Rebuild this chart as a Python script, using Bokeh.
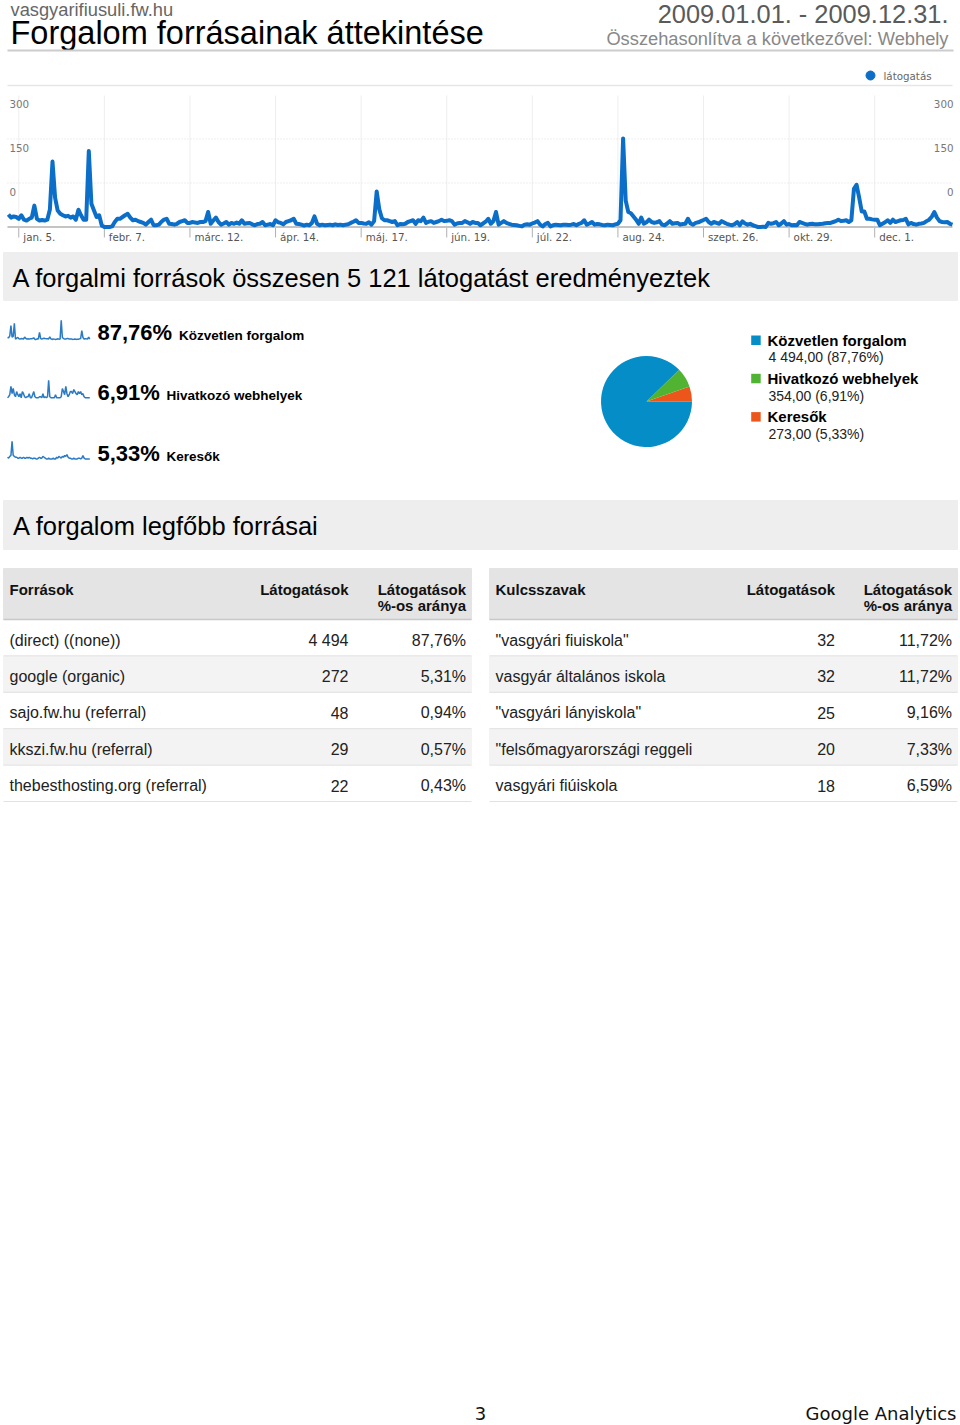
import numpy as np
import pandas as pd
from bokeh.plotting import figure
from bokeh.models import Range1d, ColumnDataSource
from bokeh.core.properties import value
from bokeh.transform import cumsum
from bokeh.embed import file_html
from bokeh.resources import INLINE

W, H = 960, 1425

# ---------------- data ----------------
site_name = "vasgyarifiusuli.fw.hu"
report_title = "Forgalom forrásainak áttekintése"
date_range = "2009.01.01. - 2009.12.31."
compare_text = "Összehasonlítva a következővel: Webhely"
series_name = "látogatás"

visits_jan = [43, 32, 36, 34, 28, 40, 25, 22, 28, 32, 73, 28, 22, 24, 22, 25, 60, 223, 100, 56, 45, 40, 36, 38, 32, 36, 25, 59, 40, 25, 25]
visits_feb = [259, 79, 56, 34, 40, 5, 0, 0, 0, 2, 17, 28, 28, 34, 40, 45, 32, 23, 25, 20, 17, 14, 8, 17, 25, 6, 6, 8]
visits_mar = [18, 25, 28, 11, 10, 8, 11, 17, 20, 23, 14, 14, 17, 15, 14, 17, 17, 20, 51, 11, 22, 32, 17, 8, 12, 17, 8, 14, 11, 15, 11]
visits_apr = [23, 11, 13, 14, 9, 6, 10, 11, 17, 6, 8, 10, 6, 23, 16, 14, 9, 17, 20, 23, 28, 11, 10, 8, 5, 8, 6, 14, 36, 11]
visits_may = [6, 8, 6, 7, 8, 6, 9, 7, 8, 6, 8, 9, 14, 18, 23, 14, 14, 12, 11, 16, 8, 20, 121, 60, 30, 23, 23, 20, 17, 20, 6]
visits_jun = [10, 9, 11, 17, 20, 23, 11, 23, 20, 32, 14, 18, 20, 14, 17, 20, 25, 20, 21, 23, 20, 8, 12, 14, 14, 20, 16, 11, 17, 14]
visits_jul = [14, 6, 12, 18, 28, 11, 20, 51, 8, 14, 20, 14, 11, 8, 7, 6, 4, 2, 8, 9, 8, 12, 15, 20, 8, 2, 10, 14, 2, 6, 8]
visits_aug = [7, 6, 8, 8, 7, 8, 10, 6, 11, 14, 23, 8, 12, 17, 8, 10, 9, 7, 6, 8, 7, 6, 9, 11, 23, 302, 90, 51, 47, 36, 25]
visits_sep = [11, 32, 11, 16, 25, 17, 14, 16, 20, 8, 6, 12, 20, 11, 13, 14, 8, 10, 11, 28, 12, 8, 14, 16, 20, 24, 28, 17, 11, 17]
visits_oct = [14, 11, 20, 15, 11, 8, 6, 10, 17, 6, 19, 12, 8, 11, 6, 3, 0, 0, 1, 0, 14, 11, 13, 17, 6, 12, 20, 8, 10, 6, 7]
visits_nov = [6, 17, 14, 11, 8, 10, 11, 9, 9, 10, 11, 13, 14, 14, 17, 20, 25, 20, 21, 23, 17, 23, 130, 144, 101, 53, 53, 28, 28, 26]
visits_dec = [25, 25, 6, 11, 16, 23, 14, 25, 17, 20, 23, 24, 28, 9, 14, 10, 8, 11, 12, 14, 20, 25, 35, 51, 32, 20, 17, 16, 17, 11, 8]

tick_dates = ["2009-01-05", "2009-02-07", "2009-03-12", "2009-04-14", "2009-05-17", "2009-06-19",
              "2009-07-22", "2009-08-24", "2009-09-26", "2009-10-29", "2009-12-01"]
tick_labels = ["jan. 5.", "febr. 7.", "márc. 12.", "ápr. 14.", "máj. 17.", "jún. 19.",
               "júl. 22.", "aug. 24.", "szept. 26.", "okt. 29.", "dec. 1."]
y_ticks = [0, 150, 300]

summary_title = "A forgalmi források összesen 5 121 látogatást eredményeztek"
source_names = ["Közvetlen forgalom", "Hivatkozó webhelyek", "Keresők"]
source_visits = [4494, 354, 273]
source_pct = ["87,76%", "6,91%", "5,33%"]
source_legend_vals = ["4 494,00 (87,76%)", "354,00 (6,91%)", "273,00 (5,33%)"]
source_colors = ["#058dc7", "#50b432", "#ed561b"]

spark_direct = [35, 30, 60, 210, 40, 50, 245, 8, 25, 35,
                15, 12, 18, 15, 12, 40, 20, 10, 15, 10,
                15, 15, 18, 30, 6, 6, 15, 12, 110, 18,
                12, 18, 22, 18, 15, 14, 12, 42, 15, 5,
                12, 10, 6, 7, 15, 10, 7, 290, 35, 18,
                12, 12, 18, 18, 12, 12, 12, 6, 8, 12,
                6, 10, 8, 14, 18, 135, 35, 12, 16, 14,
                10, 40, 12]
spark_referral = [2, 3, 5, 13, 6, 11, 5, 3, 8, 5,
                  3, 6, 2, 8, 6, 3, 2, 3, 3, 6,
                  2, 2, 5, 8, 3, 2, 2, 2, 3, 3,
                  2, 6, 2, 3, 2, 3, 19, 3, 2, 2,
                  2, 2, 5, 2, 2, 2, 2, 3, 11, 8,
                  5, 13, 6, 3, 5, 8, 8, 6, 10, 8,
                  6, 5, 8, 6, 8, 5, 6, 3, 2, 2,
                  2, 2, 2]
spark_search = [4, 3, 5, 6, 22, 6, 5, 4, 4, 3,
                3, 4, 3, 3, 4, 3, 3, 4, 3, 4,
                3, 3, 2, 3, 3, 2, 2, 3, 4, 3,
                3, 5, 4, 3, 2, 2, 3, 2, 2, 2,
                3, 2, 2, 4, 3, 5, 4, 3, 5, 4,
                6, 5, 7, 4, 3, 3, 2, 2, 3, 2,
                2, 2, 3, 3, 2, 3, 6, 3, 2, 2,
                2, 2, 2]

top_title = "A forgalom legfőbb forrásai"
src_headers = ["Források", "Látogatások", "Látogatások", "%-os aránya"]
kw_headers = ["Kulcsszavak", "Látogatások", "Látogatások", "%-os aránya"]
top_sources = ["(direct) ((none))", "google (organic)", "sajo.fw.hu (referral)",
               "kkszi.fw.hu (referral)", "thebesthosting.org (referral)"]
top_sources_visits = ["4 494", "272", "48", "29", "22"]
top_sources_pct = ["87,76%", "5,31%", "0,94%", "0,57%", "0,43%"]
keywords = ['"vasgyári fiuiskola"', "vasgyár általános iskola", '"vasgyári lányiskola"',
            '"felsőmagyarországi reggeli', "vasgyári fiúiskola"]
keywords_visits = ["32", "32", "25", "20", "18"]
keywords_pct = ["11,72%", "11,72%", "9,16%", "7,33%", "6,59%"]

page_number = "3"
footer_brand = "Google Analytics"

# ---------------- helpers ----------------
SANS = "Liberation Sans"
DEJA = "DejaVu Sans"


def xr(v0, v1, px0, px1):
    s = (v1 - v0) / (px1 - px0)
    return Range1d(start=v0 - px0 * s, end=v0 + (W - px0) * s)


def yr(v0, v1, py0, py1):
    s = (v1 - v0) / (py1 - py0)
    return Range1d(start=v0 + (H - py0) * s, end=v0 - py0 * s)


p = figure(width=W, height=H, x_range=Range1d(0, W), y_range=Range1d(H, 0),
           output_backend="svg", toolbar_location=None, min_border=0,
           x_axis_location=None, y_axis_location=None,
           background_fill_color="white", border_fill_color="white",
           outline_line_color=None)
p.xgrid.visible = False
p.ygrid.visible = False


def lst(v):
    return list(v) if isinstance(v, (list, tuple, np.ndarray)) else [v]


def txt(x, y, s, size, color="#222222", font=SANS, align="left", baseline="alphabetic",
        style="normal", **kw):
    s = lst(s)
    n = len(s)
    x = lst(x)
    y = lst(y)
    if len(x) == 1:
        x = x * n
    if len(y) == 1:
        y = y * n
    if baseline == "alphabetic":
        # place by the baseline, drawn with a middle anchor
        y = [v - 0.35 * size for v in y]
        baseline = "middle"
    p.text(x=x, y=y, text=s, text_font=value(font), text_font_size=f"{size}px",
           text_color=color, text_align=align, text_baseline=baseline,
           text_font_style=style, **kw)


# ---------------- header ----------------
txt(10, 15, site_name, 18.3, color="#666666")
txt(10, 44, report_title, 32.5, color="#000000")
txt(948, 22, date_range, 25.4, color="#5a5a5a", align="right")
txt(948, 44, compare_text, 18.3, color="#888888", align="right")
p.segment(x0=[7], x1=[953], y0=[50], y1=[50], line_color="#cccccc", line_width=2)

# ---------------- line chart ----------------
visits = (visits_jan + visits_feb + visits_mar + visits_apr + visits_may + visits_jun +
          visits_jul + visits_aug + visits_sep + visits_oct + visits_nov + visits_dec)
day_idx = list(range(len(visits)))
year_start = pd.Timestamp("2009-01-01")
tick_days = [int((pd.Timestamp(d) - year_start).days) for d in tick_dates]

p.extra_x_ranges["chart_x"] = xr(0, len(visits) - 1, 7.9, 952.0)
p.extra_y_ranges["chart_y"] = yr(0, 300, 226.5, 138.5)

# legend
p.scatter(x=[870], y=[75], size=9, color="#0b6ec9")
txt(883, 75, series_name, 10.3, color="#666666", font=DEJA, baseline="middle")
# top border
p.segment(x0=[7], x1=[952], y0=[85], y1=[85], line_color="#e6e6e6", line_width=1.5)
# vertical grid & ticks
p.segment(x0=tick_days, x1=tick_days, y0=[95] * len(tick_days), y1=[226.5] * len(tick_days),
          x_range_name="chart_x", line_color="#eeeeee", line_width=1)
p.segment(x0=tick_days, x1=tick_days, y0=[226.5] * len(tick_days), y1=[237] * len(tick_days),
          x_range_name="chart_x", line_color="#b0b0b0", line_width=1)
txt(tick_days, 236.5, tick_labels, 10.3, color="#555555", font=DEJA, baseline="middle",
    x_offset=4.5, x_range_name="chart_x")
# horizontal dotted grid
p.segment(x0=[7] * 2, x1=[952] * 2, y0=y_ticks[1:], y1=y_ticks[1:], y_range_name="chart_y",
          line_color="#dddddd", line_width=1, line_dash="1 2")
p.segment(x0=[7], x1=[952], y0=[0], y1=[0], y_range_name="chart_y",
          line_color="#c4c4c4", line_width=2)
ylab = [str(v) for v in y_ticks]
txt(9, y_ticks, ylab, 10.3, color="#777777", font=DEJA, baseline="middle",
    y_offset=-35.5, y_range_name="chart_y")
txt(953, y_ticks, ylab, 10.3, color="#777777", font=DEJA, baseline="middle", align="right",
    y_offset=-35.5, y_range_name="chart_y")
p.line(x=day_idx, y=visits, x_range_name="chart_x", y_range_name="chart_y",
       line_color="#0b6ec9", line_width=4, line_join="round")

# ---------------- summary band ----------------
p.quad(left=[3], right=[957], top=[252], bottom=[300], color="#eeeeee")
txt(12, 286, summary_title, 25.5, color="#000000")

# sparklines + percents
sparks = [spark_direct, spark_referral, spark_search]
spark_base = [339.3, 399.3, 460.3]
for i, (sp, b) in enumerate(zip(sparks, spark_base)):
    xn, yn = f"sx{i}", f"sy{i}"
    p.extra_x_ranges[xn] = xr(0, len(sp) - 1, 7.0, 89.3)
    p.extra_y_ranges[yn] = yr(0, max(sp), b, b - 19.5)
    p.line(x=list(range(len(sp))), y=sp, x_range_name=xn, y_range_name=yn,
           line_color="#2a7ac4", line_width=1.5)

txt(97, spark_base, source_pct, 22, color="#000000", style="bold")
txt([178.5, 166, 166], spark_base, source_names, 13.5, color="#000000", style="bold")

# pie
pie = ColumnDataSource(dict(name=source_names[::-1], val=source_visits[::-1],
                            color=source_colors[::-1],
                            angle=[v / sum(source_visits) * 2 * np.pi for v in source_visits[::-1]]))
p.wedge(x=646, y=401, radius=45.5, start_angle=cumsum("angle", include_zero=True),
        end_angle=cumsum("angle"), fill_color="color", line_color=None, source=pie)

# legend
leg_top = [335 + i * 38.3 for i in range(len(source_names))]
p.quad(left=[750.7] * 3, right=[760.2] * 3, top=leg_top, bottom=[t + 9.5 for t in leg_top],
       fill_color=source_colors, line_color=None)
txt(767, [t + 10 for t in leg_top], source_names, 15, color="#000000", style="bold")
txt(768, [t + 26.7 for t in leg_top], source_legend_vals, 14, color="#222222")

# ---------------- top sources ----------------
p.quad(left=[3], right=[957], top=[500], bottom=[549], color="#eeeeee")
txt(12.5, 534, top_title, 25.5, color="#000000")

row_h = 36.4
row_top0 = 619.0


def table(x0, x1, col2_right, col3_right, headers, names, vals, pcts):
    n = len(names)
    p.quad(left=[x0], right=[x1], top=[568], bottom=[row_top0], color="#e4e4e4")
    tops = [row_top0 + i * row_h for i in range(n)]
    alt = [t for i, t in enumerate(tops) if i % 2 == 1]
    p.quad(left=[x0] * len(alt), right=[x1] * len(alt), top=alt,
           bottom=[t + row_h for t in alt], color="#f3f3f3")
    p.segment(x0=[x0], x1=[x1], y0=[row_top0], y1=[row_top0], line_color="#c8c8c8", line_width=1.5)
    p.segment(x0=[x0] * n, x1=[x1] * n, y0=[t + row_h for t in tops], y1=[t + row_h for t in tops],
              line_color="#e2e2e2", line_width=1)
    txt(x0 + 6, 594, headers[0], 15, color="#111111", style="bold")
    txt(col2_right, 594, headers[1], 15, color="#111111", style="bold", align="right")
    txt(col3_right, [594, 610.5], headers[2:], 15, color="#111111", style="bold", align="right")
    base = [t + 26.1 for t in tops]
    txt(x0 + 6, base, names, 16, color="#222222")
    txt(col2_right, base, vals, 16, color="#222222", align="right")
    txt(col3_right, base, pcts, 16, color="#222222", align="right")


table(3, 471, 348, 465.5, src_headers, top_sources, top_sources_visits, top_sources_pct)
table(489, 957, 834.5, 951.5, kw_headers, keywords, keywords_visits, keywords_pct)

# ---------------- footer ----------------
txt(480, 1419, page_number, 18, color="#111111", font=DEJA, align="center")
txt(956, 1419, footer_brand, 18, color="#111111", font=DEJA, align="right")

open("out.html", "w").write(file_html(p, INLINE))
